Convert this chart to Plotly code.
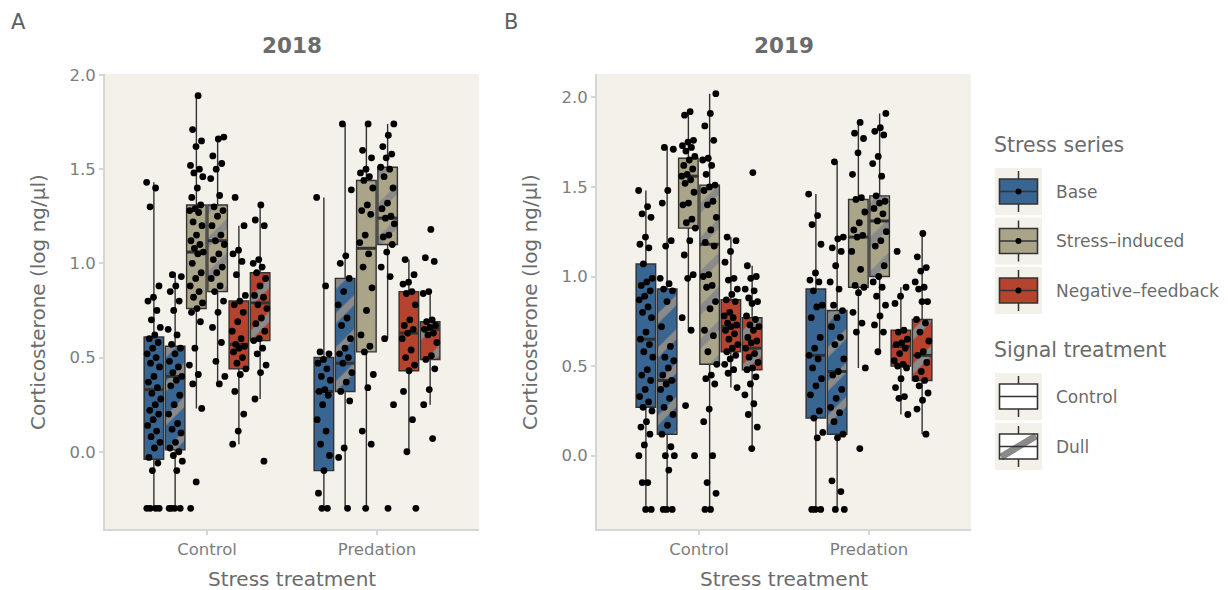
import plotly.graph_objects as go

# ---------------- data ----------------
years = ["2018", "2019"]
treatments = ["Control", "Predation"]
series = ["Base", "Stress-induced", "Negative-feedback"]
signals = ["Control", "Dull"]

# box statistics, order per year: [Control: BaseC, BaseD, StrC, StrD, NfbC, NfbD, Predation: same]
q1_2018 = [-0.04, 0.01, 0.76, 0.85, 0.44, 0.59, -0.10, 0.32, 0.53, 1.10, 0.43, 0.49]
med_2018 = [0.33, 0.40, 1.06, 1.12, 0.57, 0.79, 0.32, 0.47, 1.08, 1.24, 0.63, 0.65]
q3_2018 = [0.61, 0.56, 1.31, 1.31, 0.80, 0.95, 0.50, 0.92, 1.44, 1.51, 0.85, 0.69]
lo_2018 = [-0.30, -0.30, 0.23, 0.36, 0.04, 0.28, -0.30, -0.30, -0.30, 0.60, 0.00, 0.25]
hi_2018 = [1.43, 0.95, 1.89, 1.67, 1.20, 1.31, 1.35, 1.74, 1.74, 1.74, 1.02, 0.85]

q1_2019 = [0.27, 0.12, 1.27, 0.51, 0.58, 0.48, 0.21, 0.12, 0.94, 1.00, 0.50, 0.42]
med_2019 = [0.65, 0.42, 1.56, 1.18, 0.72, 0.60, 0.56, 0.47, 1.22, 1.31, 0.61, 0.56]
q3_2019 = [1.07, 0.93, 1.66, 1.51, 0.87, 0.77, 0.93, 0.81, 1.43, 1.45, 0.70, 0.76]
lo_2019 = [-0.30, -0.30, 0.70, -0.30, 0.38, 0.04, -0.30, -0.30, 0.49, 0.58, 0.23, 0.12]
hi_2019 = [1.48, 1.72, 1.92, 2.02, 1.22, 1.06, 1.46, 1.64, 1.86, 1.91, 0.94, 1.24]

p18_ctl_base_c = [1.43, 1.40, 1.30, 0.88, 0.82, 0.80, 0.75, 0.70, 0.66, 0.62, 0.60, 0.58, 0.55, 0.52, 0.50, 0.47, 0.45, 0.40, 0.37, 0.34, 0.31, 0.28, 0.25, 0.22, 0.20, 0.17, 0.14, 0.11, 0.08, 0.05, 0.02, -0.03, -0.06, -0.10, -0.30, -0.30, -0.30, -0.30]
p18_ctl_base_d = [0.94, 0.93, 0.88, 0.85, 0.80, 0.75, 0.65, 0.62, 0.57, 0.55, 0.52, 0.48, 0.45, 0.42, 0.40, 0.38, 0.35, 0.30, 0.25, 0.20, 0.15, 0.12, 0.10, 0.05, 0.02, 0.00, -0.02, -0.05, -0.10, -0.30, -0.30, -0.30, -0.30]
p18_ctl_str_c = [1.89, 1.71, 1.65, 1.62, 1.52, 1.50, 1.48, 1.46, 1.40, 1.35, 1.31, 1.29, 1.28, 1.27, 1.22, 1.20, 1.15, 1.12, 1.10, 1.08, 1.06, 1.05, 1.00, 0.95, 0.92, 0.88, 0.85, 0.82, 0.79, 0.76, 0.74, 0.69, 0.55, 0.46, 0.41, 0.36, 0.23, -0.16, -0.30]
p18_ctl_str_d = [1.67, 1.66, 1.57, 1.53, 1.50, 1.45, 1.36, 1.30, 1.28, 1.25, 1.20, 1.15, 1.12, 1.10, 1.05, 1.02, 0.98, 0.95, 0.92, 0.88, 0.85, 0.80, 0.74, 0.66, 0.58, 0.48, 0.40, 0.36]
p18_ctl_nfb_c = [1.35, 1.20, 1.07, 1.05, 1.01, 0.94, 0.83, 0.80, 0.78, 0.74, 0.69, 0.64, 0.60, 0.57, 0.56, 0.55, 0.53, 0.50, 0.47, 0.44, 0.41, 0.32, 0.20, 0.11, 0.04]
p18_ctl_nfb_d = [1.31, 1.23, 1.20, 1.02, 1.00, 0.98, 0.95, 0.92, 0.88, 0.83, 0.82, 0.78, 0.76, 0.71, 0.68, 0.64, 0.60, 0.59, 0.55, 0.52, 0.46, 0.42, 0.28, -0.05]
p18_pre_base_c = [1.35, 0.88, 0.53, 0.52, 0.49, 0.47, 0.44, 0.40, 0.38, 0.33, 0.32, 0.30, 0.25, 0.17, 0.11, 0.04, -0.02, -0.10, -0.22, -0.30, -0.30]
p18_pre_base_d = [1.74, 1.39, 1.04, 1.00, 0.92, 0.85, 0.78, 0.71, 0.67, 0.60, 0.55, 0.52, 0.50, 0.47, 0.42, 0.37, 0.32, 0.27, 0.02, -0.03, -0.30]
p18_pre_str_c = [1.74, 1.60, 1.56, 1.50, 1.48, 1.46, 1.44, 1.40, 1.31, 1.28, 1.26, 1.15, 1.11, 1.05, 0.98, 0.87, 0.75, 0.62, 0.56, 0.53, 0.41, 0.34, 0.11, 0.04, -0.30]
p18_pre_str_d = [1.74, 1.68, 1.62, 1.58, 1.56, 1.51, 1.50, 1.46, 1.40, 1.32, 1.29, 1.25, 1.24, 1.21, 1.15, 1.14, 1.10, 1.06, 0.98, 0.93, 0.60, 0.25, -0.30]
p18_pre_nfb_c = [1.02, 0.94, 0.90, 0.89, 0.85, 0.84, 0.78, 0.70, 0.67, 0.65, 0.63, 0.60, 0.54, 0.50, 0.46, 0.43, 0.32, 0.17, 0.00, -0.30]
p18_pre_nfb_d = [1.18, 1.03, 1.01, 0.85, 0.84, 0.70, 0.69, 0.67, 0.66, 0.65, 0.63, 0.62, 0.58, 0.51, 0.49, 0.44, 0.33, 0.25, 0.07]

p19_ctl_base_c = [1.48, 1.39, 1.35, 1.33, 1.22, 1.18, 1.16, 1.07, 0.99, 0.97, 0.95, 0.92, 0.89, 0.87, 0.83, 0.80, 0.77, 0.69, 0.65, 0.62, 0.58, 0.55, 0.48, 0.45, 0.42, 0.37, 0.33, 0.30, 0.27, 0.25, 0.19, 0.16, 0.12, 0.06, 0.00, -0.15, -0.15, -0.30, -0.30]
p19_ctl_base_d = [1.72, 1.71, 1.48, 1.41, 1.20, 1.17, 0.99, 0.96, 0.93, 0.92, 0.86, 0.72, 0.61, 0.55, 0.53, 0.49, 0.45, 0.42, 0.40, 0.37, 0.32, 0.27, 0.23, 0.17, 0.12, 0.05, 0.00, 0.00, -0.08, -0.30, -0.30, -0.30]
p19_ctl_str_c = [1.92, 1.90, 1.76, 1.75, 1.73, 1.72, 1.70, 1.67, 1.65, 1.62, 1.60, 1.57, 1.56, 1.54, 1.52, 1.47, 1.41, 1.40, 1.32, 1.30, 1.27, 1.20, 1.12, 1.01, 0.99, 0.77, 0.70, 0.28, 0.00]
p19_ctl_str_d = [2.02, 1.91, 1.84, 1.76, 1.66, 1.65, 1.62, 1.57, 1.51, 1.50, 1.48, 1.42, 1.40, 1.33, 1.26, 1.19, 1.17, 1.01, 1.00, 0.95, 0.94, 0.86, 0.82, 0.70, 0.67, 0.58, 0.51, 0.45, 0.43, 0.40, 0.26, 0.19, 0.00, -0.15, -0.21, -0.30, -0.30]
p19_ctl_nfb_c = [1.22, 1.20, 1.14, 1.08, 0.99, 0.98, 0.93, 0.90, 0.87, 0.86, 0.80, 0.78, 0.77, 0.74, 0.73, 0.72, 0.70, 0.68, 0.65, 0.62, 0.60, 0.58, 0.56, 0.54, 0.51, 0.48, 0.46, 0.38]
p19_ctl_nfb_d = [1.58, 1.06, 1.00, 0.99, 0.93, 0.92, 0.88, 0.86, 0.85, 0.78, 0.76, 0.73, 0.72, 0.70, 0.66, 0.64, 0.63, 0.60, 0.57, 0.55, 0.52, 0.49, 0.48, 0.44, 0.40, 0.34, 0.29, 0.23, 0.16, 0.04]
p19_pre_base_c = [1.46, 1.34, 1.29, 1.18, 1.02, 0.98, 0.97, 0.92, 0.84, 0.83, 0.77, 0.66, 0.60, 0.56, 0.54, 0.49, 0.43, 0.39, 0.34, 0.25, 0.21, 0.13, 0.10, -0.30, -0.30, -0.30]
p19_pre_base_d = [1.64, 1.22, 1.21, 1.16, 1.14, 1.06, 0.97, 0.93, 0.84, 0.81, 0.77, 0.72, 0.66, 0.62, 0.54, 0.47, 0.45, 0.37, 0.32, 0.27, 0.24, 0.19, 0.12, 0.10, -0.14, -0.20, -0.30, -0.30]
p19_pre_str_c = [1.86, 1.80, 1.77, 1.69, 1.57, 1.44, 1.43, 1.36, 1.30, 1.26, 1.23, 1.22, 1.14, 1.04, 0.95, 0.94, 0.91, 0.80, 0.74, 0.69, 0.49, 0.04]
p19_pre_str_d = [1.91, 1.83, 1.81, 1.79, 1.67, 1.63, 1.56, 1.45, 1.42, 1.41, 1.38, 1.35, 1.31, 1.25, 1.20, 1.17, 1.06, 1.00, 0.97, 0.94, 0.89, 0.84, 0.78, 0.73, 0.69, 0.58]
p19_pre_nfb_c = [1.14, 0.94, 0.89, 0.85, 0.70, 0.69, 0.65, 0.63, 0.62, 0.60, 0.57, 0.53, 0.51, 0.50, 0.49, 0.43, 0.38, 0.33, 0.32, 0.23]
p19_pre_nfb_d = [1.24, 1.11, 1.05, 1.03, 0.97, 0.94, 0.93, 0.86, 0.86, 0.76, 0.74, 0.69, 0.64, 0.58, 0.56, 0.52, 0.47, 0.43, 0.42, 0.39, 0.35, 0.31, 0.26, 0.12]

# ---------------- assembly ----------------
stats = {
    "2018": (q1_2018, med_2018, q3_2018, lo_2018, hi_2018),
    "2019": (q1_2019, med_2019, q3_2019, lo_2019, hi_2019),
}
points = {
    "2018": [p18_ctl_base_c, p18_ctl_base_d, p18_ctl_str_c, p18_ctl_str_d, p18_ctl_nfb_c, p18_ctl_nfb_d,
             p18_pre_base_c, p18_pre_base_d, p18_pre_str_c, p18_pre_str_d, p18_pre_nfb_c, p18_pre_nfb_d],
    "2019": [p19_ctl_base_c, p19_ctl_base_d, p19_ctl_str_c, p19_ctl_str_d, p19_ctl_nfb_c, p19_ctl_nfb_d,
             p19_pre_base_c, p19_pre_base_d, p19_pre_str_c, p19_pre_str_d, p19_pre_nfb_c, p19_pre_nfb_d],
}

W, H = 1228, 590
# screen-pixel -> paper mapping (calibrated to the rendered page)
def px(x):
    return x / W
def py(y):
    return 1 - (y - 8) / 582.0

fills = {"Base": "#386591", "Stress-induced": "#aaa588", "Negative-feedback": "#b5432d"}
EDGE = "#333333"
STRIPE = "#8a8a8a"
PANEL = "#f4f0ea"
TXT = "#6b6b6b"
FONT = "DejaVu Sans, Verdana, sans-serif"
BW = 0.115
DODGE = 0.125
JIT = 0.085

bars, boxes, meds, dots = [], [], [], []
for yi, yr in enumerate(years):
    xa = "x" if yi == 0 else "x2"
    ya = "y" if yi == 0 else "y2"
    q1, md, q3, lo, hi = stats[yr]
    for ti, tr in enumerate(treatments):
        for si, s in enumerate(series):
            for gi, sig in enumerate(signals):
                k = 2 * si + gi
                idx = ti * 6 + k
                pos = (ti + 1) + (k - 2.5) * DODGE
                dull = sig == "Dull"
                bars.append(go.Bar(
                    x=[pos], y=[q3[idx] - q1[idx]], base=[q1[idx]], width=[BW],
                    marker=dict(color=fills[s], line=dict(width=0),
                                pattern=dict(shape="/" if dull else "", fgcolor=STRIPE, bgcolor=fills[s],
                                             size=24, solidity=0.3, fillmode="replace")),
                    xaxis=xa, yaxis=ya, showlegend=False, hoverinfo="skip"))
                boxes.append(go.Box(
                    x=[pos], q1=[q1[idx]], median=[md[idx]], q3=[q3[idx]],
                    lowerfence=[lo[idx]], upperfence=[hi[idx]], width=BW,
                    fillcolor="rgba(0,0,0,0)", line=dict(color=EDGE, width=1.4),
                    whiskerwidth=0, boxpoints=False, xaxis=xa, yaxis=ya, showlegend=False))
                meds.append(go.Scatter(
                    x=[pos - BW / 2, pos + BW / 2], y=[md[idx], md[idx]], mode="lines",
                    line=dict(color=EDGE, width=3), xaxis=xa, yaxis=ya,
                    showlegend=False, hoverinfo="skip"))
                vals = points[yr][idx]
                xs = [pos + ((i * 0.6180339887 + 0.31 * k) % 1 - 0.5) * JIT for i in range(len(vals))]
                dots.append(go.Scatter(
                    x=xs, y=vals, mode="markers",
                    marker=dict(color="black", size=6.8, line=dict(width=0)),
                    xaxis=xa, yaxis=ya, showlegend=False))

fig = go.Figure(bars + boxes + meds + dots)

axis_common = dict(showgrid=False, zeroline=False, showline=True, linecolor="#d6d6d6", linewidth=2,
                   ticks="outside", ticklen=4, tickcolor="#d6d6d6", tickwidth=1.5,
                   tickfont=dict(family=FONT, size=16.5, color="#7d7d7d"))
ydom = [py(529), py(74)]
fig.update_layout(
    width=W, height=H, margin=dict(l=0, r=0, t=0, b=0),
    paper_bgcolor="white", plot_bgcolor=PANEL,
    barmode="overlay", boxmode="overlay", bargap=0,
    xaxis=dict(domain=[px(105), px(479)], range=[0.4, 2.6], tickvals=[1, 2], ticktext=treatments,
               anchor="y", **axis_common),
    yaxis=dict(domain=ydom, range=[-0.41, 2.005], tickvals=[0, 0.5, 1, 1.5, 2], tickformat=".1f",
               anchor="x", **axis_common),
    xaxis2=dict(domain=[px(597), px(971)], range=[0.4, 2.6], tickvals=[1, 2], ticktext=treatments,
                anchor="y2", **axis_common),
    yaxis2=dict(domain=ydom, range=[-0.409, 2.13], tickvals=[0, 0.5, 1, 1.5, 2], tickformat=".1f",
                anchor="x2", **axis_common),
    font=dict(family=FONT, color=TXT),
)

ann = []
def text(x, y, s, size, xanchor="center", bold=False, angle=0, color=TXT):
    ann.append(dict(x=px(x), y=py(y), xref="paper", yref="paper", text=f"<b>{s}</b>" if bold else s,
                    showarrow=False, xanchor=xanchor, yanchor="middle", textangle=angle,
                    font=dict(family=FONT, size=size, color=color)))

text(9, 22, "A", 21, xanchor="left", color="#5e5e5e")
text(502, 22, "B", 21, xanchor="left", color="#5e5e5e")
text(292, 45, years[0], 21.5, bold=True)
text(784, 45, years[1], 21.5, bold=True)
text(38, 302, "Corticosterone (log ng/µl)", 20, angle=-90)
text(530, 302, "Corticosterone (log ng/µl)", 20, angle=-90)
text(292, 579, "Stress treatment", 20)
text(784, 579, "Stress treatment", 20)

# legend (drawn manually)
shapes = []
def rect(x0, y0, x1, y1, fill=None, line=None, lw=1.5):
    shapes.append(dict(type="rect", xref="paper", yref="paper", x0=px(x0), x1=px(x1), y0=py(y1), y1=py(y0),
                       fillcolor=fill if fill else "rgba(0,0,0,0)",
                       line=dict(color=line if line else "rgba(0,0,0,0)", width=lw if line else 0)))
def seg(x0, y0, x1, y1, color=EDGE, lw=1.5):
    shapes.append(dict(type="line", xref="paper", yref="paper", x0=px(x0), x1=px(x1), y0=py(y0), y1=py(y1),
                       line=dict(color=color, width=lw)))
def dot(cx, cy, r):
    shapes.append(dict(type="circle", xref="paper", yref="paper", x0=px(cx - r), x1=px(cx + r),
                       y0=py(cy + r), y1=py(cy - r), fillcolor="black", line=dict(width=0)))

def key(top, fill, dull=False, with_dot=False):
    rect(995, top, 1042, top + 47, fill=PANEL)
    rect(999.5, top + 11, 1037.5, top + 36, fill=fill)
    if dull:
        seg(1001, top + 34, 1036, top + 13, color=STRIPE, lw=7)
    seg(1018.5, top + 3, 1018.5, top + 11)
    seg(1018.5, top + 36, 1018.5, top + 44)
    rect(999.5, top + 11, 1037.5, top + 36, line=EDGE, lw=1.6)
    seg(999.5, top + 23.5, 1037.5, top + 23.5, lw=1.6)
    if with_dot:
        dot(1018.5, top + 23.5, 3)

text(992, 145, "Stress series", 20.5, xanchor="left")
for i, s in enumerate(series):
    top = 168 + i * 49.5
    key(top, fills[s], with_dot=True)
    text(1054, top + 23.5, s.replace("-", "–"), 17, xanchor="left")

text(992, 350, "Signal treatment", 20.5, xanchor="left")
for i, sig in enumerate(signals):
    top = 373 + i * 50
    key(top, "white", dull=(sig == "Dull"))
    text(1054, top + 23.5, sig, 17, xanchor="left")

fig.update_layout(annotations=ann, shapes=shapes)
fig.write_html("out.html")
